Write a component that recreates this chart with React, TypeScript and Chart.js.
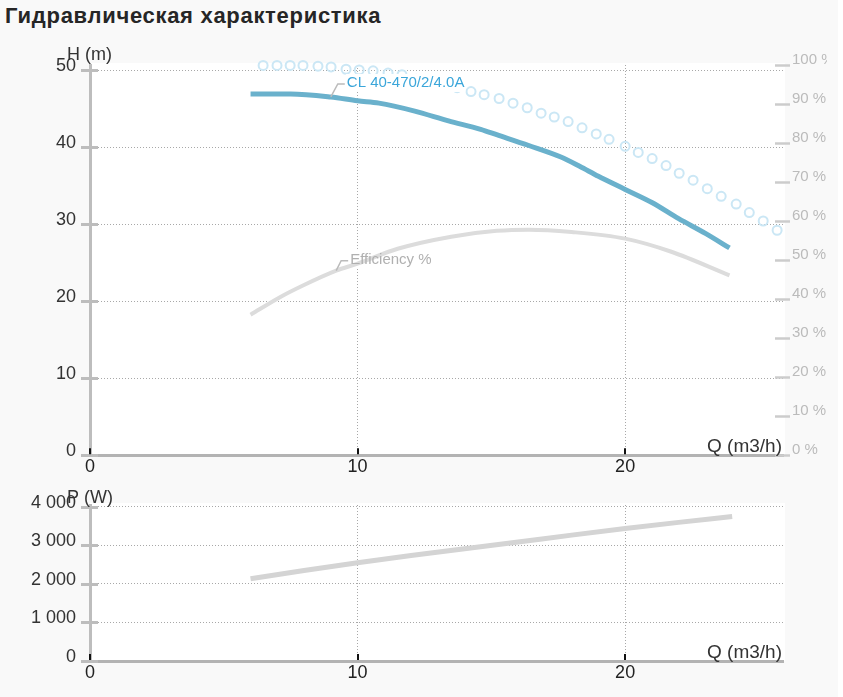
import React, { useEffect, useRef } from "react";
import { Chart, registerables } from "chart.js";

Chart.register(...registerables);

const FONT = '"Liberation Sans", Arial, Helvetica, sans-serif';

// Q-H curve (m3/h, m)
const flowHead = [6.0, 7.5, 9.0, 10.0, 10.8, 12.1, 13.4, 14.6, 15.2, 16.4, 17.6, 18.3, 19.0, 20.0, 21.0, 22.0, 23.0, 23.9];
const head = [46.9, 46.9, 46.5, 46.0, 45.7, 44.7, 43.4, 42.3, 41.6, 40.2, 38.7, 37.5, 36.2, 34.5, 32.8, 30.7, 28.8, 26.9];

// Efficiency curve (m3/h, %)
const flowEff = [6.0, 7.1, 7.9, 9.2, 10.0, 11.5, 13.5, 15.2, 16.4, 18.0, 20.0, 21.7, 23.9];
const efficiency = [36.0, 40.5, 43.3, 47.3, 49.1, 52.9, 56.0, 57.5, 57.8, 57.2, 55.5, 52.2, 46.1];

// Dotted curve (m3/h, m)
const flowDots = [6.47, 6.99, 7.48, 7.96, 8.52, 9.01, 9.57, 10.06, 10.58, 11.14, 11.66, 12.19, 12.71, 13.2, 13.72, 14.24, 14.73, 15.29, 15.81, 16.34, 16.86, 17.35, 17.87, 18.39, 18.92, 19.4, 20.0, 20.49, 21.01, 21.53, 22.02, 22.54, 23.07, 23.59, 24.15, 24.64, 25.16, 25.68];
const headDots = [50.6, 50.6, 50.6, 50.6, 50.5, 50.4, 50.1, 50.0, 49.9, 49.6, 49.4, 48.8, 48.4, 48.1, 47.7, 47.2, 46.8, 46.3, 45.7, 45.1, 44.4, 43.9, 43.3, 42.5, 41.7, 41.0, 40.1, 39.3, 38.5, 37.6, 36.6, 35.7, 34.6, 33.6, 32.6, 31.5, 30.4, 29.2];

// Power curve (m3/h, W)
const flowPower = [6, 8, 10, 12, 14, 16, 18, 20, 22, 24];
const power = [2130, 2345, 2545, 2730, 2905, 3080, 3260, 3430, 3590, 3740];

// Tick values
const flowTicks = [0, 10, 20];
const headTicks = [0, 10, 20, 30, 40, 50];
const effTicks = [0, 10, 20, 30, 40, 50, 60, 70, 80, 90, 100];
const powerTicks = [0, 1000, 2000, 3000, 4000];

const TITLE = "Гидравлическая характеристика";
const SERIES_LABEL = "CL 40-470/2/4.0A";
const EFF_LABEL = "Efficiency %";
const H_TITLE = "H (m)";
const P_TITLE = "P (W)";
const Q_TITLE = "Q (m3/h)";

const pts = (xs: number[], ys: number[]) => xs.map((x, i) => ({ x, y: ys[i] }));

const fmtThousands = (v: number) => String(v).replace(/\B(?=(\d{3})+(?!\d))/g, " ");

const setTicks = (values: number[]) => (s: any) => {
  s.ticks = values.map((value) => ({ value }));
};

type Label = { text: string; color: string; axis: string; q: number; v: number; dx: number; dy: number };

function decorPlugin(cfg: {
  leftTitle: string;
  leftTitleY: number;
  rightAxis?: string;
  labels?: Label[];
}) {
  return {
    id: "decor",
    beforeDraw(chart: any) {
      const { ctx, chartArea: a } = chart;
      ctx.save();
      ctx.fillStyle = "#ffffff";
      ctx.fillRect(a.left, a.top - 2, a.right - a.left + 2, a.bottom - a.top + 2);
      ctx.restore();
    },
    beforeDatasetDraw(chart: any, args: any) {
      if (!cfg.labels || args.index !== 1) return;
      const { ctx } = chart;
      ctx.save();
      ctx.font = `15px ${FONT}`;
      for (const l of cfg.labels) {
        const px = chart.scales.x.getPixelForValue(l.q);
        const py = chart.scales[l.axis].getPixelForValue(l.v);
        const tx = px + l.dx + 2;
        const ty = py + l.dy;
        const w = ctx.measureText(l.text).width;
        ctx.fillStyle = "#ffffff";
        ctx.fillRect(tx - 1, ty - 9, w + 2, 18);
      }
      ctx.restore();
    },
    afterDatasetsDraw(chart: any) {
      const { ctx, chartArea: a, scales } = chart;
      ctx.save();
      // left axis tick bars
      ctx.strokeStyle = "#bdbdbd";
      ctx.lineWidth = 3;
      for (const t of scales.y.ticks) {
        const y = Math.round(scales.y.getPixelForValue(t.value)) + 0.5;
        ctx.beginPath();
        ctx.moveTo(a.left - 9, y);
        ctx.lineTo(a.left + 8, y);
        ctx.stroke();
      }
      // right axis tick bars
      if (cfg.rightAxis) {
        const s = scales[cfg.rightAxis];
        ctx.strokeStyle = "#cccccc";
        ctx.lineWidth = 2.5;
        for (const t of s.ticks) {
          const y = Math.round(s.getPixelForValue(t.value)) + 0.5;
          ctx.beginPath();
          ctx.moveTo(a.right - 8, y);
          ctx.lineTo(a.right + 7, y);
          ctx.stroke();
        }
      }
      // x tick marks (black, inside)
      ctx.strokeStyle = "#111111";
      ctx.lineWidth = 2;
      for (const t of scales.x.ticks) {
        const x = Math.round(scales.x.getPixelForValue(t.value));
        ctx.beginPath();
        ctx.moveTo(x, a.bottom - 7);
        ctx.lineTo(x, a.bottom - 1);
        ctx.stroke();
      }
      // axis titles
      ctx.fillStyle = "#333333";
      ctx.font = `18px ${FONT}`;
      ctx.textBaseline = "middle";
      ctx.textAlign = "left";
      ctx.fillText(cfg.leftTitle, 67, a.top + cfg.leftTitleY);
      ctx.font = `19px ${FONT}`;
      ctx.textAlign = "right";
      ctx.fillText(Q_TITLE, a.right - 1, a.bottom - 8);
      // series labels with leader lines
      if (cfg.labels) {
        ctx.font = `15px ${FONT}`;
        ctx.textAlign = "left";
        for (const l of cfg.labels) {
          const px = scales.x.getPixelForValue(l.q);
          const py = scales[l.axis].getPixelForValue(l.v);
          ctx.strokeStyle = "#bbbbbb";
          ctx.lineWidth = 1.5;
          ctx.beginPath();
          ctx.moveTo(px, py);
          ctx.lineTo(px + l.dx - 7, py + l.dy + 1);
          ctx.lineTo(px + l.dx, py + l.dy + 1);
          ctx.stroke();
          ctx.fillStyle = l.color;
          ctx.fillText(l.text, px + l.dx + 2, py + l.dy);
        }
      }
      ctx.restore();
    },
  };
}

const gridDash = [1, 2];

export default function App() {
  const topRef = useRef<HTMLCanvasElement>(null);
  const botRef = useRef<HTMLCanvasElement>(null);

  useEffect(() => {
    document.body.style.margin = "0";
    const xScale = (height: number) => ({
      type: "linear" as const,
      min: 0,
      max: 25.9,
      afterBuildTicks: setTicks(flowTicks),
      ticks: {
        padding: 1,
        color: "#222222",
        font: { family: FONT, size: 18 },
      },
      grid: { color: "#a8a8a8", drawTicks: false, lineWidth: 1 },
      border: { display: true, color: "#b3b3b3", width: 3, dash: gridDash },
      afterFit: (s: any) => {
        s.height = height;
      },
    });

    const top = new Chart(topRef.current!, {
      type: "line",
      data: {
        datasets: [
          {
            label: SERIES_LABEL,
            data: pts(flowHead, head),
            yAxisID: "y",
            borderColor: "#6ab1cc",
            borderWidth: 5,
            pointRadius: 0,
            cubicInterpolationMode: "monotone",
          },
          {
            label: EFF_LABEL,
            data: pts(flowEff, efficiency),
            yAxisID: "y2",
            borderColor: "#dcdcdc",
            borderWidth: 4,
            pointRadius: 0,
            cubicInterpolationMode: "monotone",
          },
          {
            label: "dots",
            data: pts(flowDots, headDots),
            yAxisID: "y",
            showLine: false,
            pointRadius: 4.5,
            pointBorderWidth: 2,
            pointBorderColor: "#cbe7f5",
            pointBackgroundColor: "rgba(255,255,255,0)",
            clip: false,
          },
        ],
      },
      options: {
        animation: false,
        responsive: false,
        devicePixelRatio: 1,
        layout: { padding: { top: 65, left: 0, right: 0, bottom: 0 } },
        plugins: { legend: { display: false }, tooltip: { enabled: false }, title: { display: false } },
        scales: {
          x: xScale(23),
          y: {
            type: "linear",
            position: "left",
            min: 0,
            max: 50.65,
            afterBuildTicks: setTicks(headTicks),
            ticks: {
              padding: 14,
              labelOffset: -4,
              color: "#333333",
              font: { family: FONT, size: 18 },
            },
            grid: { color: "#a8a8a8", drawTicks: false, lineWidth: 1 },
            border: { display: true, color: "#bdbdbd", width: 3, dash: gridDash },
            afterFit: (s: any) => {
              s.width = 90;
            },
          },
          y2: {
            type: "linear",
            position: "right",
            min: 0,
            max: 100,
            afterBuildTicks: setTicks(effTicks),
            ticks: {
              padding: 9,
              labelOffset: -5,
              color: "#bbbbbb",
              font: { family: FONT, size: 15 },
              callback: (v: any) => `${v} %`,
            },
            grid: { display: false, drawTicks: false, drawOnChartArea: false },
            border: { display: false },
            afterFit: (s: any) => {
              s.width = 44;
            },
          },
        },
      } as any,
      plugins: [
        decorPlugin({
          leftTitle: H_TITLE,
          leftTitleY: -10,
          rightAxis: "y2",
          labels: [
            { text: SERIES_LABEL, color: "#3ba6da", axis: "y", q: 9.0, v: 46.5, dx: 14, dy: -14 },
            { text: EFF_LABEL, color: "#b0b0b0", axis: "y2", q: 9.2, v: 47.3, dx: 12, dy: -11 },
          ],
        }) as any,
      ],
    });

    const bot = new Chart(botRef.current!, {
      type: "line",
      data: {
        datasets: [
          {
            label: "P",
            data: pts(flowPower, power),
            yAxisID: "y",
            borderColor: "#d4d4d4",
            borderWidth: 5,
            pointRadius: 0,
            cubicInterpolationMode: "monotone",
          },
        ],
      },
      options: {
        animation: false,
        responsive: false,
        devicePixelRatio: 1,
        layout: { padding: { top: 25, left: 0, right: 44, bottom: 0 } },
        plugins: { legend: { display: false }, tooltip: { enabled: false }, title: { display: false } },
        scales: {
          x: xScale(36),
          y: {
            type: "linear",
            position: "left",
            min: 0,
            max: 4040,
            afterBuildTicks: setTicks(powerTicks),
            ticks: {
              padding: 14,
              labelOffset: -4,
              color: "#333333",
              font: { family: FONT, size: 18 },
              callback: (v: any) => fmtThousands(v),
            },
            grid: { color: "#a8a8a8", drawTicks: false, lineWidth: 1 },
            border: { display: true, color: "#bdbdbd", width: 3, dash: gridDash },
            afterFit: (s: any) => {
              s.width = 90;
            },
          },
        },
      } as any,
      plugins: [decorPlugin({ leftTitle: P_TITLE, leftTitleY: -7 }) as any],
    });

    return () => {
      top.destroy();
      bot.destroy();
    };
  }, []);

  return (
    <div
      style={{
        position: "relative",
        width: 838,
        height: 697,
        background: "#f9f9f9",
        overflow: "hidden",
        fontFamily: FONT,
      }}
    >
      <div
        style={{
          position: "absolute",
          left: 5,
          top: 5,
          fontSize: 22,
          lineHeight: "22px",
          letterSpacing: 0.7,
          fontWeight: "bold",
          color: "#262626",
          whiteSpace: "nowrap",
        }}
      >
        {TITLE}
      </div>
      <canvas
        ref={topRef}
        width={827}
        height={480}
        style={{ position: "absolute", left: 0, top: 0, width: 827, height: 480 }}
      />
      <canvas
        ref={botRef}
        width={827}
        height={217}
        style={{ position: "absolute", left: 0, top: 480, width: 827, height: 217 }}
      />
    </div>
  );
}
